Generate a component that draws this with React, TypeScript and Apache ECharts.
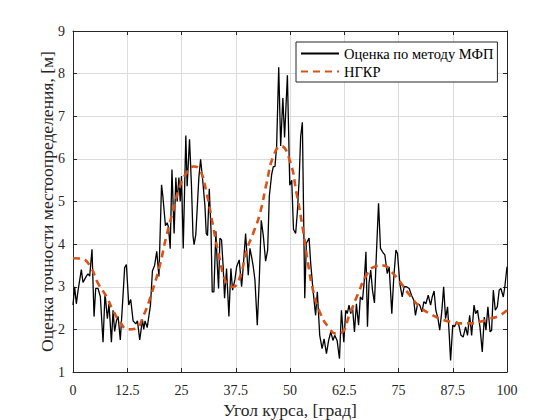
import React, { useEffect, useRef } from "react";
import * as echarts from "echarts";

const xTicks = [0, 12.5, 25, 37.5, 50, 62.5, 75, 87.5, 100];

const mfpX = [
  0, 0.38, 0.77, 1.15, 1.92, 2.3, 3.08, 3.46, 3.85, 4.38, 4.85, 5.23, 5.77, 6.3, 6.92, 7.38, 7.92, 8.3, 8.85, 9.23,
  9.6, 10, 10.4, 10.9, 11.5, 11.9, 12.3, 12.85, 13.3, 13.85, 14.46, 14.85, 15.38, 16, 16.3, 16.6, 17.1, 17.85, 18.3, 18.8,
  19.3, 19.8, 20.4, 20.7, 21.3, 21.7, 22, 22.4, 22.8, 23.3, 23.7, 24, 24.4, 24.7, 25, 25.4, 26, 26.3, 26.85, 27.3,
  27.65, 27.9, 28.3, 29.0, 29.4, 29.9, 30.4, 30.7, 31, 31.4, 31.8, 32.08, 32.46, 32.92, 33.23, 33.54, 33.85, 34.23, 34.6, 34.92,
  35.38, 35.92, 36.38, 36.77, 37.3, 37.7, 38.3, 38.85, 39.23, 39.77, 40.38, 40.77, 41.15, 41.54, 41.92, 42.46, 42.92, 43.38, 43.85, 44.38,
  44.85, 45.23, 45.77, 46.15, 46.54, 46.92, 47.4, 47.85, 48.35, 48.75, 49.4, 49.95, 50.4, 50.8, 51.3, 51.7, 52.1, 52.46, 52.85, 53.1,
  53.4, 53.77, 54.4, 54.77, 55.3, 55.9, 56.3, 56.85, 57.4, 57.85, 58.4, 58.9, 59.4, 59.9, 60.3, 60.85, 61.4, 61.85, 62.4, 62.85,
  63.2, 63.6, 64, 64.4, 64.85, 65.3, 65.8, 66.2, 66.7, 67.1, 67.5, 67.85, 68.2, 68.6, 69, 69.46, 69.9, 70.4, 70.85, 71.3,
  71.85, 72.4, 72.85, 73.46, 73.9, 74.4, 74.77, 75.3, 75.85, 76.3, 76.85, 77.46, 78, 78.5, 78.9, 79.4, 79.9, 80.4, 80.85, 81.3,
  81.85, 82.4, 82.77, 83.2, 83.6, 84.1, 84.5, 85, 85.4, 85.85, 86.3, 86.7, 87, 87.5, 87.9, 88.4, 88.9, 89.4, 89.9, 90.46,
  90.9, 91.4, 91.85, 92.4, 92.77, 93.2, 93.77, 94.3, 94.77, 95.15, 95.6, 96.1, 96.46, 96.85, 97.3, 97.77, 98.2, 98.6, 99.15, 99.5,
  100,
];

const mfpY = [
  2.57, 3.0, 2.6, 2.9, 3.4, 3.1, 3.25, 3.3, 3.25, 3.88, 2.3, 2.96, 2.96, 2.77, 1.7, 2.85, 2.25, 2.6, 1.7, 2.45,
  1.95, 2.2, 2.3, 1.75, 2.75, 3.45, 3.52, 2.57, 2.7, 2.2, 2.13, 2.2, 1.75, 2.23, 2.0, 2.2, 2.04, 2.57, 3.37, 3.5,
  3.83, 3.24, 5.39, 5.13, 4.43, 4.5, 4.4, 3.89, 5.75, 4.25, 5.56, 5.0, 5.56, 5.0, 5.6, 3.9, 6.55, 5.36, 6.46, 5.36,
  4.19, 3.99, 4.23, 5.56, 5.99, 5.48, 4.9, 4.25, 4.2, 5.3, 4.33, 2.88, 2.88, 4.3, 3.55, 2.96, 4.14, 4.1, 3.47, 2.73,
  3.43, 2.3, 3.43, 2.92, 3.16, 3.47, 3.63, 3.0, 3.47, 4.25, 3.27, 3.9, 3.7, 3.47, 3.16, 2.1, 3.16, 4.56, 4.2, 3.6,
  3.86, 5.12, 5.63, 5.82, 5.82, 6.3, 8.15, 6.3, 7.43, 6.5, 7.96, 5.38, 5.5, 4.35, 4.25, 4.76, 5.5, 6.53, 6.86, 4.96,
  2.73, 4.02, 4.14, 3.55, 2.92, 2.33, 2.88, 1.86, 1.55, 1.78, 1.43, 1.74, 1.94, 1.74, 1.86, 1.74, 1.31, 2.45, 1.7, 2.45,
  2.37, 2.57, 2.37, 2.53, 1.94, 2.6, 2.1, 2.76, 2.69, 3.12, 3.82, 2.06, 3.08, 3.39, 2.92, 2.62, 3.75, 4.96, 3.9, 3.82,
  3.75, 3.31, 3.47, 2.37, 3.2, 3.86, 3.78, 3.08, 2.76, 3.0, 3.0, 2.96, 2.8, 2.69, 2.33, 2.6, 2.57, 2.41, 2.65, 2.6,
  2.8, 2.57, 2.76, 2.9, 2.45, 2.25, 1.98, 2.45, 3.0, 2.25, 2.53, 1.86, 1.27, 2.1, 2.06, 2.18, 2.1, 1.86, 1.82, 2.06,
  1.86, 2.33, 1.86, 2.57, 2.37, 2.45, 2.06, 1.47, 2.29, 1.98, 2.53, 1.94, 1.98, 2.92, 2.45, 2.53, 2.92, 2.96, 2.76, 3.0,
  3.47,
];

const ngkrX = [
  0, 1.9, 3.85, 5.77, 7.7, 9.2, 10.8, 12.7, 14.5, 16.15, 18.1, 20, 21.5, 23.1, 24.6, 26.15, 27.7, 29.2, 30.77, 32.3,
  33.85, 35.4, 36.9, 38.5, 40, 41.5, 43.1, 44.6, 46.15, 47.9, 49.9, 51.5, 53, 54.15, 55.3, 56.85, 58.8, 60.7, 61.85, 63.8,
  65.7, 67.6, 69.5, 71.5, 73.4, 75.3, 77.6, 79.9, 82.2, 84.5, 86.85, 89.15, 91.46, 93.77, 96.1, 98.4, 100,
];

const ngkrY = [
  3.67, 3.66, 3.5, 3.08, 2.77, 2.45, 2.18, 2.0, 2.02, 2.3, 2.84, 3.5, 4.18, 4.8, 5.35, 5.67, 5.82, 5.75, 5.2, 4.41,
  3.63, 3.08, 3.0, 3.24, 3.86, 4.25, 4.73, 5.43, 6.06, 6.3, 5.98, 5.2, 4.33, 3.55, 2.92, 2.41, 2.06, 1.9, 1.92, 2.37,
  2.84, 3.27, 3.47, 3.5, 3.35, 3.12, 2.8, 2.53, 2.37, 2.25, 2.18, 2.14, 2.14, 2.18, 2.25, 2.33, 2.45,
];

const seriesNames = ["Оценка по методу МФП", "НГКР"];

const FONT = "Liberation Serif";

export default function App() {
  const ref = useRef<HTMLDivElement>(null);

  useEffect(() => {
    if (!ref.current) return;
    const chart = echarts.init(ref.current, undefined, { renderer: "svg" });
    const mfpData = mfpX.map((x, i) => [x, mfpY[i]]);
    const ngkrData = ngkrX.map((x, i) => [x, ngkrY[i]]);
    const axisColor = "#262626";
    const gridColor = "#dcdcdc";

    chart.setOption({
      animation: false,
      backgroundColor: "#ffffff",
      textStyle: { fontFamily: FONT },
      grid: {
        left: 73,
        top: 31,
        width: 434,
        height: 341,
        show: false,
        containLabel: false,
        outerBoundsMode: "none",
      },
      legend: {
        orient: "vertical",
        left: 296,
        top: 42,
        padding: [4, 4, 3, 4],
        itemGap: 3,
        itemWidth: 38,
        itemHeight: 14,
        borderColor: axisColor,
        borderWidth: 1,
        borderRadius: 0,
        backgroundColor: "#ffffff",
        itemStyle: { opacity: 0 },
        textStyle: { fontFamily: FONT, fontSize: 14.5, color: "#000" },
        data: seriesNames,
      },
      xAxis: [
        {
          type: "value",
          min: 0,
          max: 100,
          interval: 12.5,
          position: "bottom",
          name: "Угол курса, [град]",
          nameLocation: "middle",
          nameGap: 29,
          nameMoveOverlap: false,
          nameTextStyle: { fontFamily: FONT, fontSize: 17.5, color: axisColor, lineHeight: 17 },
          axisLine: { show: true, onZero: false, lineStyle: { color: axisColor, width: 1 } },
          axisTick: { show: true, inside: true, length: 4, lineStyle: { color: axisColor } },
          axisLabel: {
            fontFamily: FONT,
            fontSize: 14,
            color: axisColor,
            margin: 11,
            formatter: (v: number) => (xTicks.includes(v) ? String(v) : ""),
          },
          splitLine: { show: true, lineStyle: { color: gridColor, width: 1 } },
        },
        {
          type: "value",
          min: 0,
          max: 100,
          interval: 12.5,
          position: "top",
          axisLine: { show: true, onZero: false, lineStyle: { color: axisColor, width: 1 } },
          axisTick: { show: true, inside: true, length: 4, lineStyle: { color: axisColor } },
          axisLabel: { show: false },
          splitLine: { show: false },
        },
      ],
      yAxis: [
        {
          type: "value",
          min: 1,
          max: 9,
          interval: 1,
          position: "left",
          name: "Оценка точности местоопределения, [м]",
          nameLocation: "middle",
          nameGap: 18,
          nameMoveOverlap: false,
          nameTextStyle: { fontFamily: FONT, fontSize: 17.5, color: axisColor, lineHeight: 17 },
          axisLine: { show: true, onZero: false, lineStyle: { color: axisColor, width: 1 } },
          axisTick: { show: true, inside: true, length: 4, lineStyle: { color: axisColor } },
          axisLabel: { fontFamily: FONT, fontSize: 14, color: axisColor, margin: 8 },
          splitLine: { show: true, lineStyle: { color: gridColor, width: 1 } },
        },
        {
          type: "value",
          min: 1,
          max: 9,
          interval: 1,
          position: "right",
          axisLine: { show: true, onZero: false, lineStyle: { color: axisColor, width: 1 } },
          axisTick: { show: true, inside: true, length: 4, lineStyle: { color: axisColor } },
          axisLabel: { show: false },
          splitLine: { show: false },
        },
      ],
      series: [
        {
          name: seriesNames[0],
          type: "line",
          data: mfpData,
          symbol: "none",
          smooth: false,
          lineStyle: { color: "#000000", width: 1.3 },
          itemStyle: { color: "#000000" },
          z: 2,
        },
        {
          name: seriesNames[1],
          type: "line",
          data: ngkrData,
          symbol: "none",
          smooth: true,
          lineStyle: { color: "#D95319", width: 2.6, type: [7, 5] },
          itemStyle: { color: "#D95319" },
          z: 3,
        },
      ],
    });

    return () => chart.dispose();
  }, []);

  return (
    <div
      ref={ref}
      style={{ position: "absolute", left: 0, top: 0, width: 560, height: 420 }}
    />
  );
}
